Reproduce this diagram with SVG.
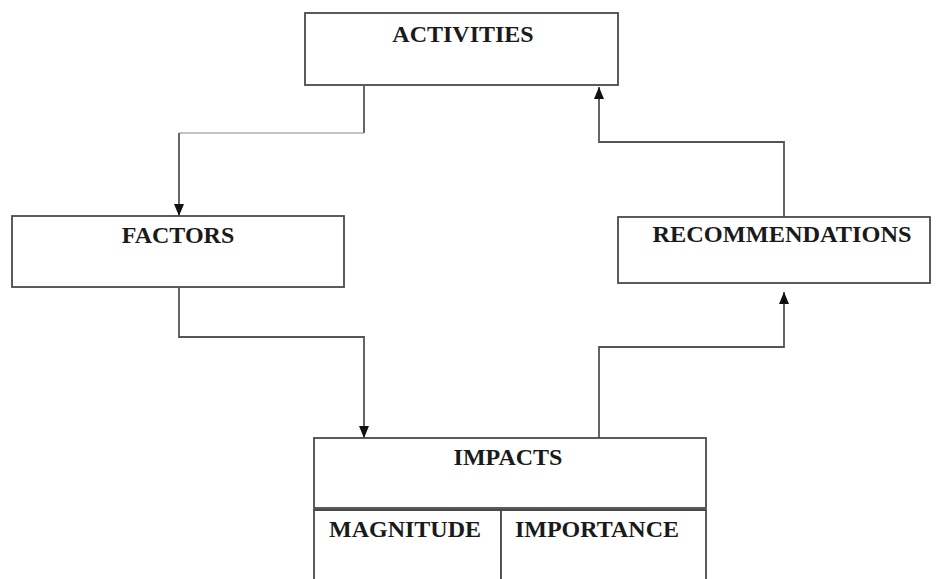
<svg xmlns="http://www.w3.org/2000/svg" width="937" height="579" viewBox="0 0 937 579">
<style>
.box{fill:#fff;stroke:#4a4a4a;stroke-width:1.8}
.lbl{font-family:"Liberation Serif","Times New Roman",serif;font-weight:bold;font-size:24px;fill:#1a1a1a;text-anchor:middle}
.con{fill:none;stroke:#555;stroke-width:1.8}
.thin{fill:none;stroke:#888;stroke-width:1}
</style>
<defs>
<marker id="ah" viewBox="0 0 12 12" refX="12" refY="6" markerWidth="12" markerHeight="12" markerUnits="userSpaceOnUse" orient="auto">
<path d="M0,1 L12,6 L0,11 Z" fill="#111"/>
</marker>
</defs>
<rect width="937" height="579" fill="#fff"/>
<g id="connectors">
<path class="con" d="M364,86 V133"/>
<path class="thin" d="M364,133 H179"/>
<path class="con" d="M179,133 V216" marker-end="url(#ah)"/>
<path class="con" d="M179,288 V337 H364 V438" marker-end="url(#ah)"/>
<path class="con" d="M599,438 V347 H784 V292" marker-end="url(#ah)"/>
<path class="con" d="M784,217 V142 H599 V87" marker-end="url(#ah)"/>
</g>
<g id="activities">
<rect class="box" x="305" y="13" width="313" height="72"/>
<text class="lbl" x="463" y="42">ACTIVITIES</text>
</g>
<g id="factors">
<rect class="box" x="12" y="216" width="332" height="71"/>
<text class="lbl" x="178" y="243">FACTORS</text>
</g>
<g id="recommendations">
<rect class="box" x="618" y="217" width="312" height="66"/>
<text class="lbl" x="782" y="242" textLength="259" lengthAdjust="spacingAndGlyphs">RECOMMENDATIONS</text>
</g>
<g id="impacts">
<rect class="box" x="314" y="438" width="392" height="70"/>
<text class="lbl" x="508" y="465">IMPACTS</text>
</g>
<g id="magnitude">
<path class="box" d="M314,590 V510 H501 V590"/>
<text class="lbl" x="405" y="537">MAGNITUDE</text>
</g>
<g id="importance">
<path class="box" d="M501,590 V510 H706 V590"/>
<text class="lbl" x="597" y="537">IMPORTANCE</text>
</g>
</svg>
